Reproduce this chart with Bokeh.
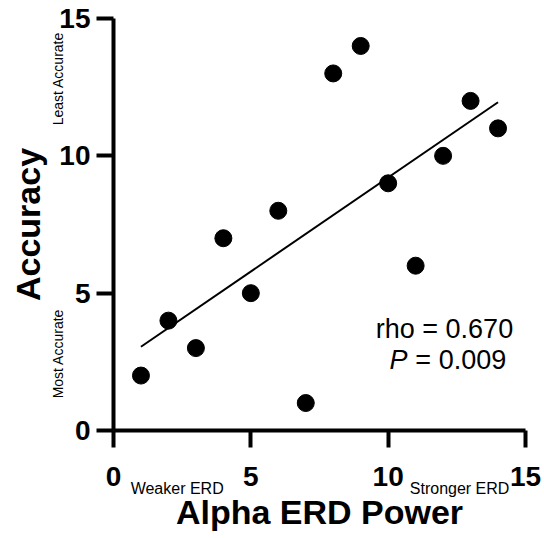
from bokeh.plotting import figure
from bokeh.models import Range1d, FixedTicker, Label, LinearAxis
from bokeh.embed import file_html
from bokeh.resources import INLINE

# Data
x_vals = [1, 2, 3, 4, 5, 6, 7, 8, 9, 10, 11, 12, 13, 14]
y_vals = [2, 4, 3, 7, 5, 8, 1, 13, 14, 9, 6, 10, 12, 11]
fit_x = [1, 14]
fit_y = [3.05, 11.95]
x_ticks = [0, 5, 10, 15]
y_ticks = [0, 5, 10, 15]
x_side_pos = [2.40, 12.60]
x_side_text = ["Weaker  ERD", "Stronger ERD"]
y_side_pos = [12.81, 2.80]
y_side_text = ["Least Accurate", "Most Accurate"]
stat_rho = "rho = 0.670"
stat_p = "= 0.009"

FONT = "Liberation Sans"

p = figure(frame_width=412, frame_height=412,
           x_range=Range1d(0, 15), y_range=Range1d(0, 15),
           output_backend="svg", toolbar_location=None,
           min_border_left=113, min_border_right=19,
           min_border_top=18, min_border_bottom=108)
p.outline_line_color = None
p.xgrid.visible = False
p.ygrid.visible = False
p.background_fill_color = "white"

for ax, ticks in ((p.xaxis[0], x_ticks), (p.yaxis[0], y_ticks)):
    ax.ticker = FixedTicker(ticks=ticks)
    ax.axis_line_width = 4
    ax.axis_line_color = "black"
    ax.major_tick_line_width = 4
    ax.major_tick_line_color = "black"
    ax.major_tick_out = 17
    ax.major_tick_in = 0
    ax.minor_tick_line_color = None
    ax.major_label_text_font = FONT
    ax.major_label_text_font_style = "bold"
    ax.major_label_text_font_size = "28px"
    ax.major_label_text_color = "black"

p.xaxis.major_label_standoff = 19
p.yaxis.major_label_standoff = 6

# secondary axes carrying the side notes and the axis titles
x2 = LinearAxis(ticker=FixedTicker(ticks=x_side_pos),
                major_label_overrides={v: t for v, t in zip(x_side_pos, x_side_text)})
y2 = LinearAxis(ticker=FixedTicker(ticks=y_side_pos),
                major_label_overrides={v: t for v, t in zip(y_side_pos, y_side_text)},
                major_label_orientation="vertical")
for ax, fs in ((x2, "16px"), (y2, "14px")):
    ax.axis_line_color = None
    ax.major_tick_line_color = None
    ax.minor_tick_line_color = None
    ax.major_tick_out = 0
    ax.major_tick_in = 0
    ax.major_label_text_font = FONT
    ax.major_label_text_font_size = fs
    ax.major_label_text_color = "black"
    ax.axis_label_text_font = FONT
    ax.axis_label_text_font_style = "bold"
    ax.axis_label_text_font_size = "34px"
    ax.axis_label_text_color = "black"
x2.axis_label = "Alpha ERD Power"
y2.axis_label = "Accuracy"
x2.major_label_standoff = -9
y2.major_label_standoff = -10
x2.axis_label_standoff = -7
y2.axis_label_standoff = 1
p.add_layout(x2, "below")
p.add_layout(y2, "left")

p.line(fit_x, fit_y, line_color="black", line_width=2)
p.scatter(x_vals, y_vals, size=17, fill_color="black", line_color="black")

# stats text
p.add_layout(Label(x=12.05, y=3.71, text=stat_rho, text_font=FONT, text_color="black",
                   text_font_size="27px", text_align="center", text_baseline="middle"))
p.add_layout(Label(x=10.70, y=2.58, text="P", text_font=FONT, text_color="black",
                   text_font_style="italic", text_font_size="27px", text_align="right",
                   text_baseline="middle"))
p.add_layout(Label(x=10.99, y=2.58, text=stat_p, text_font=FONT, text_color="black",
                   text_font_size="27px", text_align="left", text_baseline="middle"))

open("out.html", "w").write(file_html(p, INLINE))
